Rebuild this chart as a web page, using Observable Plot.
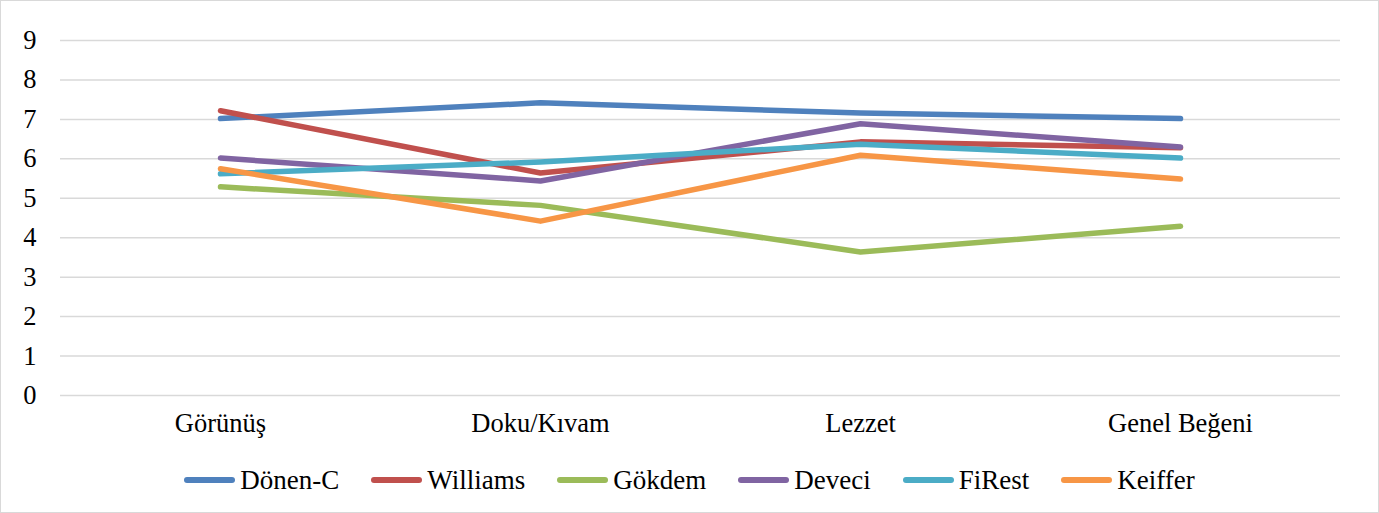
<!DOCTYPE html>
<html><head><meta charset="utf-8">
<script src="https://cdn.jsdelivr.net/npm/d3@7"></script>
<script src="https://cdn.jsdelivr.net/npm/@observablehq/plot@0.6"></script>
<style>
body{margin:0;background:#fff;}
#chart{position:relative;width:1379px;height:513px;box-sizing:border-box;border:1px solid #d9d9d9;background:#fff;}
#chart, #chart *{font-family:"Liberation Serif","Times New Roman",serif !important;}
#chart svg{position:absolute;left:0;top:0;}
#legend{position:absolute;left:0;right:0;top:462px;display:flex;justify-content:center;gap:32px;font-size:27px;line-height:34px;color:#000;}
.item{display:flex;align-items:center;}
.sw{width:51px;height:6px;border-radius:3px;margin-right:5px;}
</style></head><body>
<div id="chart"><div id="legend"></div></div>
<script>
const categories = ["Görünüş", "Doku/Kıvam", "Lezzet", "Genel Beğeni"];
const seriesNames = ["Dönen-C", "Williams", "Gökdem", "Deveci", "FiRest", "Keiffer"];
const seriesColors = ["#4F81BD", "#C0504D", "#9BBB59", "#8064A2", "#4BACC6", "#F79646"];
const donenC   = [7.02, 7.42, 7.16, 7.02];
const williams = [7.22, 5.64, 6.43, 6.28];
const gokdem   = [5.29, 4.82, 3.64, 4.29];
const deveci   = [6.02, 5.44, 6.89, 6.30];
const firest   = [5.62, 5.92, 6.37, 6.02];
const keiffer  = [5.75, 4.42, 6.09, 5.49];
const yTicks = [0, 1, 2, 3, 4, 5, 6, 7, 8, 9];

const valuesBySeries = [donenC, williams, gokdem, deveci, firest, keiffer];
const data = [];
seriesNames.forEach((s, i) => categories.forEach((c, j) => data.push({series: s, cat: c, value: valuesBySeries[i][j]})));

const chart = Plot.plot({
  width: 1377,
  height: 455,
  marginTop: 39,
  marginBottom: 61,
  marginLeft: 59,
  marginRight: 38,
  style: {fontFamily: '"Liberation Serif","Times New Roman",serif', fontSize: "26.5px", color: "#000", background: "transparent"},
  x: {type: "point", domain: categories, padding: 0.5, label: null},
  y: {domain: [0, 9], ticks: yTicks, label: null},
  color: {domain: seriesNames, range: seriesColors},
  marks: [
    Plot.gridY(yTicks, {stroke: "#d9d9d9", strokeOpacity: 1, strokeWidth: 1.5}),
    Plot.axisY(yTicks, {tickSize: 0, tickPadding: 24, fontSize: 26.5, fontFamily: "Liberation Serif", label: null}),
    Plot.axisX({tickSize: 0, tickPadding: 18, fontSize: 26.5, fontFamily: "Liberation Serif", label: null}),
    Plot.line(data, {x: "cat", y: "value", z: "series", stroke: "series", strokeWidth: 5.5, strokeLinejoin: "round", strokeLinecap: "round"})
  ]
});
document.getElementById("chart").prepend(chart);

const legend = document.getElementById("legend");
seriesNames.forEach((s, i) => {
  const it = document.createElement("div");
  it.className = "item";
  const sw = document.createElement("span");
  sw.className = "sw";
  sw.style.background = seriesColors[i];
  const t = document.createElement("span");
  t.textContent = s;
  it.append(sw, t);
  legend.append(it);
});
</script>
</body></html>
